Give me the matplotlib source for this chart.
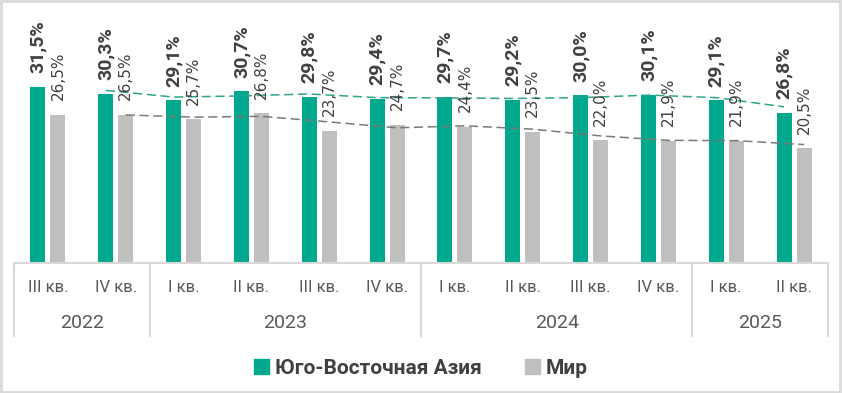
import matplotlib
matplotlib.use("Agg")
import matplotlib.pyplot as plt
import numpy as np
import pandas as pd
from matplotlib.patches import Rectangle, Patch

quarters = ["III кв.", "IV кв.", "I кв.", "II кв.", "III кв.", "IV кв.",
            "I кв.", "II кв.", "III кв.", "IV кв.", "I кв.", "II кв."]
years = ["2022", "2023", "2024", "2025"]
year_counts = [2, 4, 4, 2]
sea = [31.5, 30.3, 29.1, 30.7, 29.8, 29.4, 29.7, 29.2, 30.0, 30.1, 29.1, 26.8]
world = [26.5, 26.5, 25.7, 26.8, 23.7, 24.7, 24.4, 23.5, 22.0, 21.9, 21.9, 20.5]
series_names = ["Юго-Восточная Азия", "Мир"]

GREEN = "#00A88E"
GRAY = "#BFBFBF"
LINE = "#D9D9D9"
TXT = "#595959"

W, H = 842, 393
fig = plt.figure(figsize=(W / 100, H / 100), dpi=100)
ax_left, ax_right, ax_base, ax_top = 14, 828, 263, 10
ax = fig.add_axes([ax_left / W, 1 - ax_base / H, (ax_right - ax_left) / W, (ax_base - ax_top) / H])

n = len(sea)
x = np.arange(n)
cat_px = (ax_right - ax_left) / n
bw = 15 / cat_px
off = 10 / cat_px

ax.bar(x - off, sea, width=bw, color=GREEN, zorder=2)
ax.bar(x + off, world, width=bw, color=GRAY, zorder=2)

ax.set_xlim(-0.5, n - 0.5)
ax.set_ylim(0, (ax_base - ax_top) / 5.587)

# trend lines (2-period moving average)
sea_ma = pd.Series(sea).rolling(2).mean()
world_ma = pd.Series(world).rolling(2).mean()
ax.plot(x[1:] - off, sea_ma[1:], color="#2EA48C", lw=1.1, dashes=(6, 3), zorder=3)
ax.plot(x[1:] + off, world_ma[1:], color="#7A7A7A", lw=1.1, dashes=(6, 3), zorder=3)

# data labels
for xi, v in zip(x, sea):
    ax.annotate(f"{v:.1f}%".replace(".", ","), (xi - off, v), xytext=(0, 10),
                textcoords="offset points", rotation=90, ha="center", va="bottom",
                fontsize=14, fontweight="bold", color="#404040", family="Roboto", zorder=4)
for xi, v in zip(x, world):
    ax.annotate(f"{v:.1f}%".replace(".", ","), (xi + off, v), xytext=(0, 10.5),
                textcoords="offset points", rotation=90, ha="center", va="bottom",
                fontsize=11, color="#404040", family="DejaVu Sans", zorder=4)

for s in ["top", "right", "left"]:
    ax.spines[s].set_visible(False)
ax.spines["bottom"].set_color(LINE)
ax.spines["bottom"].set_linewidth(1.5)
ax.set_yticks([])
ax.set_xticks([])

tr = ax.get_xaxis_transform()
span = ax_base - ax_top
y_q = -(288 - ax_base) / span
y_y = -(323 - ax_base) / span
y_sep = -(336 - ax_base) / span

for xi, q in zip(x, quarters):
    ax.text(xi, y_q, q, transform=tr, ha="center", va="center", fontsize=12,
            color=TXT, family="Roboto")

start = 0
bounds = [-0.5]
for yr, c in zip(years, year_counts):
    ax.text(start + (c - 1) / 2, y_y, yr, transform=tr, ha="center", va="center",
            fontsize=14, color=TXT, family="Roboto")
    start += c
    bounds.append(start - 0.5)
for b in bounds:
    ax.plot([b, b], [0, y_sep], transform=tr, color=LINE, lw=1.5, clip_on=False)

handles = [Patch(color=GREEN), Patch(color=GRAY)]
leg = fig.legend(handles, series_names, loc="center", bbox_to_anchor=(0.5, 1 - 368 / H),
                 ncol=2, frameon=False, handlelength=0.7, handleheight=0.7,
                 handletextpad=0.3, columnspacing=2.1,
                 prop={"family": "Roboto", "weight": "bold", "size": 15})
for t in leg.get_texts():
    t.set_color("#404040")

fig.add_artist(Rectangle((0.001, 0.002), 0.997, 0.995, transform=fig.transFigure,
                         fill=False, edgecolor=LINE, lw=2))

fig.savefig("out.png", dpi=100, facecolor="white")
